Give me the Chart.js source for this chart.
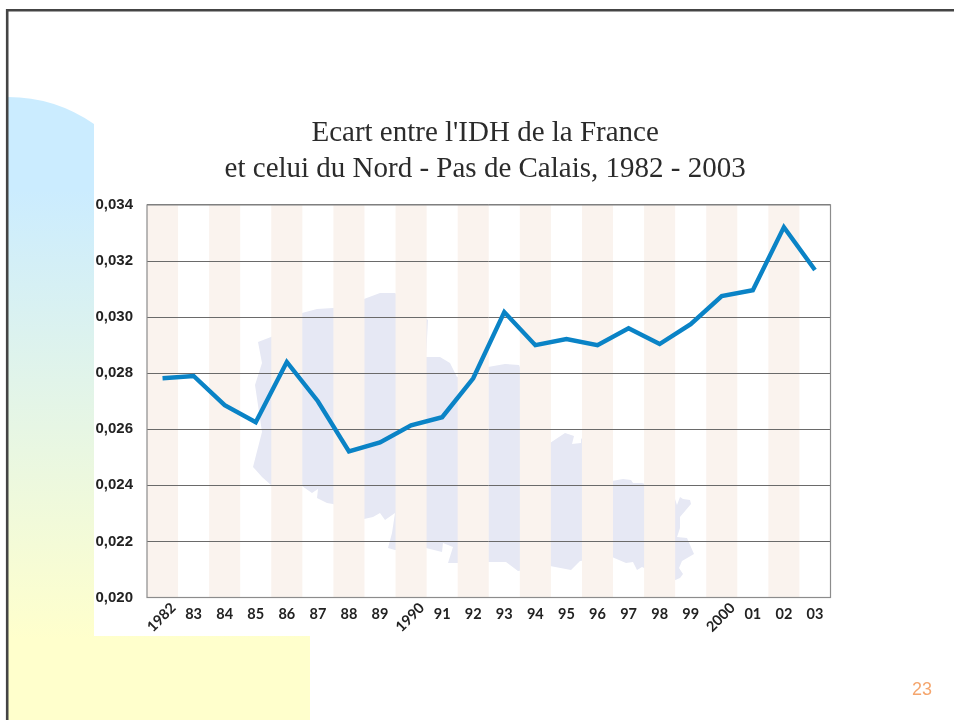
<!DOCTYPE html>
<html>
<head>
<meta charset="utf-8">
<title>Ecart IDH</title>
<script src="https://cdn.jsdelivr.net/npm/chart.js@4"></script>
<style>
html, body { margin: 0; padding: 0; background: #fff; overflow: hidden; }
#page { position: relative; width: 954px; height: 720px; overflow: hidden; }
#decor, #graphique { position: absolute; left: 0; top: 0; }
#numero { position: absolute; left: 912px; top: 679px; font: 18px "Liberation Sans", sans-serif; color: #f5a66e; }
</style>
</head>
<body>
<div id="page">
    <svg id="decor" width="954" height="720">
        <defs>
            <linearGradient id="fond" gradientUnits="userSpaceOnUse" x1="0" y1="190" x2="0" y2="640">
                <stop offset="0" stop-color="#cbecff"/>
                <stop offset="1" stop-color="#ffffcc"/>
            </linearGradient>
        </defs>
        <path d="M8,97 Q55,97 94,124 L94,636 L310,636 L310,720 L8,720 Z" fill="url(#fond)"/>
        <path d="M258,342 L271,337 L302,313 L317,309 L333,308 L364,299 L380,293 L395,293 L428,320 L426,357 L440,357 L450,363 L457,377 L488,367 L505,364 L519,365 L550,443 L565,433 L574,436 L572,444 L581,443 L581,438 L612,481 L623,479 L631,480 L633,483 L642,483 L673,493 L677,505 L680,497 L683,499 L690,500 L691,504 L680,517 L680,528 L677,537 L687,538 L694,554 L682,561 L679,568 L683,574 L680,578 L673,581 L642,567 L637,570 L633,562 L626,563 L612,557 L580,561 L571,570 L550,566 L518,571 L506,562 L488,562 L457,563 L448,563 L453,547 L443,543 L442,552 L426,548 L395,550 L388,548 L392,533 L395,513 L385,520 L380,513 L373,517 L364,519 L333,504 L327,503 L317,498 L318,489 L312,493 L302,486 L271,485 L262,477 L253,467 L262,432 L255,385 L262,363 Z" fill="#e6e8f4"/>
        <path d="M7.2,720 L7.2,10.2 L954,10.2" fill="none" stroke="#444" stroke-width="2.6"/>
    </svg>
    <canvas id="graphique" width="954" height="720"></canvas>
    <div id="numero">23</div>
</div>
<script>
const annees = ['1982', '83', '84', '85', '86', '87', '88', '89', '1990', '91', '92',
    '93', '94', '95', '96', '97', '98', '99', '2000', '01', '02', '03'];
const ecart = [0.02782, 0.02790, 0.02686, 0.02625, 0.02840, 0.02700, 0.02521, 0.02553, 0.02614, 0.02643, 0.02782,
    0.03018, 0.02900, 0.02922, 0.02900, 0.02960, 0.02904, 0.02975, 0.03075, 0.03096, 0.03321, 0.03168];
const anneesObliques = ['1982', '1990', '2000'];
const titre = ["Ecart entre l'IDH de la France ", 'et celui du Nord - Pas de Calais, 1982 - 2003 '];

const bandes = {
    id: 'bandes',
    beforeDraw(chart) {
        const { ctx, chartArea, scales } = chart;
        const largeur = scales.x.getPixelForValue(1) - scales.x.getPixelForValue(0);
        ctx.save();
        // seules les bandes paires sont colorees
        ctx.fillStyle = '#faf3ee';
        annees.forEach((a, i) => {
            if (i % 2 == 0) {
                ctx.fillRect(scales.x.getPixelForValue(i) - largeur / 2, chartArea.top, largeur, chartArea.height);
            }
        });
        ctx.restore();
    },
    afterDraw(chart) {
        const { ctx, chartArea, scales } = chart;
        ctx.save();
        // cadre du graphique
        ctx.strokeStyle = '#8c8c8c';
        ctx.lineWidth = 1.2;
        ctx.strokeRect(chartArea.left, chartArea.top, chartArea.width, chartArea.height);
        // les annees completes sont ecrites en oblique
        ctx.fillStyle = '#222';
        ctx.font = 'bold 14.5px Lato';
        ctx.textAlign = 'center';
        ctx.textBaseline = 'middle';
        anneesObliques.forEach(a => {
            ctx.save();
            ctx.translate(scales.x.getPixelForValue(annees.indexOf(a)) - 1, chartArea.bottom + 20);
            ctx.rotate(-Math.PI / 4);
            ctx.fillText(a, 0, 0);
            ctx.restore();
        });
        ctx.restore();
    }
};

new Chart(document.getElementById('graphique'), {
    type: 'line',
    data: {
        labels: annees,
        datasets: [{
            label: 'Ecart IDH',
            data: ecart,
            borderColor: '#0a83c6',
            borderWidth: 4.4,
            pointRadius: 0,
            tension: 0,
            borderJoinStyle: 'miter'
        }]
    },
    plugins: [bandes],
    options: {
        responsive: false,
        animation: false,
        layout: { padding: { left: 94, right: 123.5, top: 115, bottom: 82.5 } },
        plugins: {
            legend: { display: false },
            tooltip: { enabled: false },
            title: {
                display: true,
                text: titre,
                fullSize: false,
                color: '#2b2b2b',
                font: { family: 'Liberation Serif', size: 29, weight: 'normal', lineHeight: 1.241 },
                padding: { top: 0, bottom: 18 }
            }
        },
        scales: {
            x: {
                offset: true,
                afterFit(s) { s.height = 40; },
                grid: { display: false },
                border: { display: false },
                ticks: {
                    autoSkip: false,
                    maxRotation: 0,
                    minRotation: 0,
                    padding: 0,
                    color: '#222',
                    font: { family: 'Lato', size: 14.5, weight: 'bold' },
                    callback(v) {
                        const a = annees[v];
                        return anneesObliques.includes(a) ? '' : a;
                    }
                }
            },
            y: {
                min: 0.020,
                max: 0.034,
                afterFit(s) { s.width = 53; },
                grid: { color: '#6a6a6a', lineWidth: 1, drawTicks: false },
                border: { display: false },
                ticks: {
                    stepSize: 0.002,
                    padding: 14,
                    color: '#222',
                    font: { family: 'Liberation Sans', size: 15, weight: 'bold' },
                    callback: v => v.toFixed(3).replace('.', ',')
                }
            }
        }
    }
});
</script>
</body>
</html>
